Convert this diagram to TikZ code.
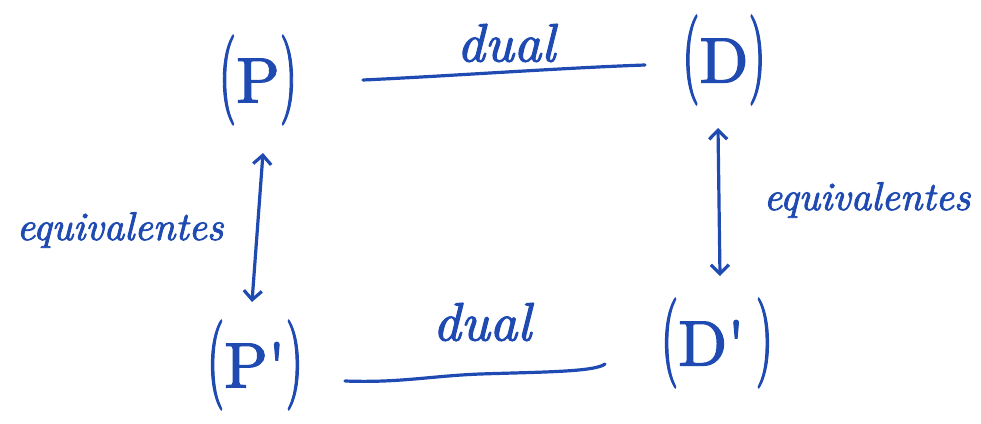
\documentclass[tikz,border=0pt]{standalone}
\usepackage{fontspec}
\usepackage{graphicx}
\usetikzlibrary{arrows.meta}
\newfontfamily\handrm{lmroman10-regular.otf}[FakeBold=2]
\newfontfamily\handit{lmroman10-italic.otf}[FakeBold=2]
\definecolor{handblue}{RGB}{30,74,178}
\newcommand{\hbr}[1]{\scalebox{0.7}[1.4]{(}#1\scalebox{0.7}[1.4]{)}}
\begin{document}
\begin{tikzpicture}[x=1pt,y=-1pt,
  prob/.style={text=handblue, font=\fontsize{64}{70}\selectfont\handrm, inner sep=0pt},
  word/.style={text=handblue, font=\fontsize{40}{48}\selectfont\handit, inner sep=0pt},
  dualw/.style={text=handblue, font=\fontsize{54}{60}\selectfont\handit, inner sep=0pt},
  stroke/.style={draw=handblue, line width=3.2pt, line cap=round, line join=round},
  equiv/.style={stroke, {Straight Barb[length=9pt,width=18pt]}-{Straight Barb[length=9pt,width=18pt]}}]
\useasboundingbox (0,0) rectangle (981,423);
% problems
\node[prob] (P)  at (258,80)  {\hbr{P}};
\node[prob] (D)  at (724,60)  {\hbr{D}};
\node[prob] (P2) at (255,365) {\hbr{P\textquotesingle}};
\node[prob] (D2) at (717,343) {\hbr{D\textquotesingle\,}};
% connector ends
\coordinate (a1) at (363,80);
\coordinate (a2) at (645,65);
\coordinate (b1) at (345,381);
\coordinate (b2) at (605,364);
\coordinate (l1) at (263,153);
\coordinate (l2) at (252,302);
\coordinate (r1) at (718,128);
\coordinate (r2) at (720,276);
% dual lines
\draw[stroke] (a1) .. controls (450,76) and (560,68) .. (a2);
\draw[stroke] (b1) .. controls (400,383) and (430,376) .. (480,374) .. controls (540,372) and (595,372) .. (b2);
\node[dualw] (d1) at (506,43) {dual};
\node[dualw] (d2) at (482,322) {dual};
% equivalences
\draw[equiv] (l1) -- (l2);
\draw[equiv] (r1) -- (r2);
\node[word] (e1) at (120,230) {equivalentes};
\node[word] (e2) at (867,200) {equivalentes};
\end{tikzpicture}
\end{document}
